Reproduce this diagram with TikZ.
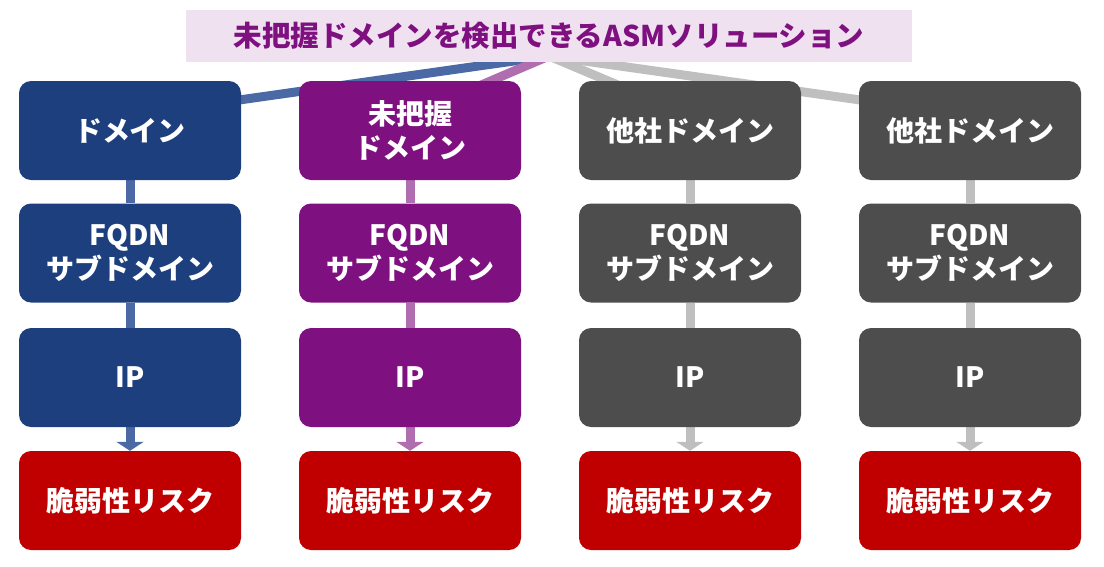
\documentclass[tikz,border=0pt]{standalone}
\usepackage{fontspec}
\setmainfont{Noto Sans CJK JP}
\usetikzlibrary{arrows.meta,backgrounds}

\definecolor{domblue}{RGB}{29,63,126}
\definecolor{lineblue}{RGB}{74,105,165}
\definecolor{dompurple}{RGB}{126,16,128}
\definecolor{linepurple}{RGB}{176,110,176}
\definecolor{domgray}{RGB}{77,77,77}
\definecolor{linegray}{RGB}{191,191,191}
\definecolor{riskred}{RGB}{192,0,0}
\definecolor{titlebg}{RGB}{239,225,239}

\begin{document}
\begin{tikzpicture}[x=1pt,y=-1pt,
	box/.style={rounded corners=12pt, minimum width=222pt, minimum height=99pt,
		inner sep=0pt, align=center, text=white,
		font=\fontsize{28}{34}\selectfont\bfseries},
	link/.style={line width=9pt}]
	\useasboundingbox (0,0) rectangle (1104,566);

	\node[fill=titlebg, minimum width=726pt, minimum height=52pt, inner sep=0pt,
		text=dompurple, font=\fontsize{28.5}{33}\selectfont\bfseries]
		(title) at (549,36) {未把握ドメインを検出できるASMソリューション};
	\coordinate (hub) at (549,56);

	% four columns, top to bottom
	\foreach \c/\x/\fc/\lc/\top in {a/130/domblue/lineblue/{ドメイン},
			b/410/dompurple/linepurple/{未把握\\ドメイン},
			c/690/domgray/linegray/{他社ドメイン},
			d/970/domgray/linegray/{他社ドメイン}}{
		\node[box, fill=\fc] (dom-\c) at (\x,130.5) {\top};
		\node[box, fill=\fc] (fqdn-\c) at (\x,253) {FQDN\\サブドメイン};
		\node[box, fill=\fc] (ip-\c) at (\x,377.5) {IP};
		\node[box, fill=riskred] (risk-\c) at (\x,500.5) {脆弱性リスク};

		\begin{scope}[on background layer]
			\draw[link, \lc] (hub) -- ([yshift=15pt]dom-\c.center);
			\draw[link, \lc] (dom-\c) -- (fqdn-\c);
			\draw[link, \lc] (fqdn-\c) -- (ip-\c);
			\draw[link, \lc, -{Triangle[width=27pt,length=9pt]}] (ip-\c) -- (risk-\c);
		\end{scope}
	}
\end{tikzpicture}
\end{document}
